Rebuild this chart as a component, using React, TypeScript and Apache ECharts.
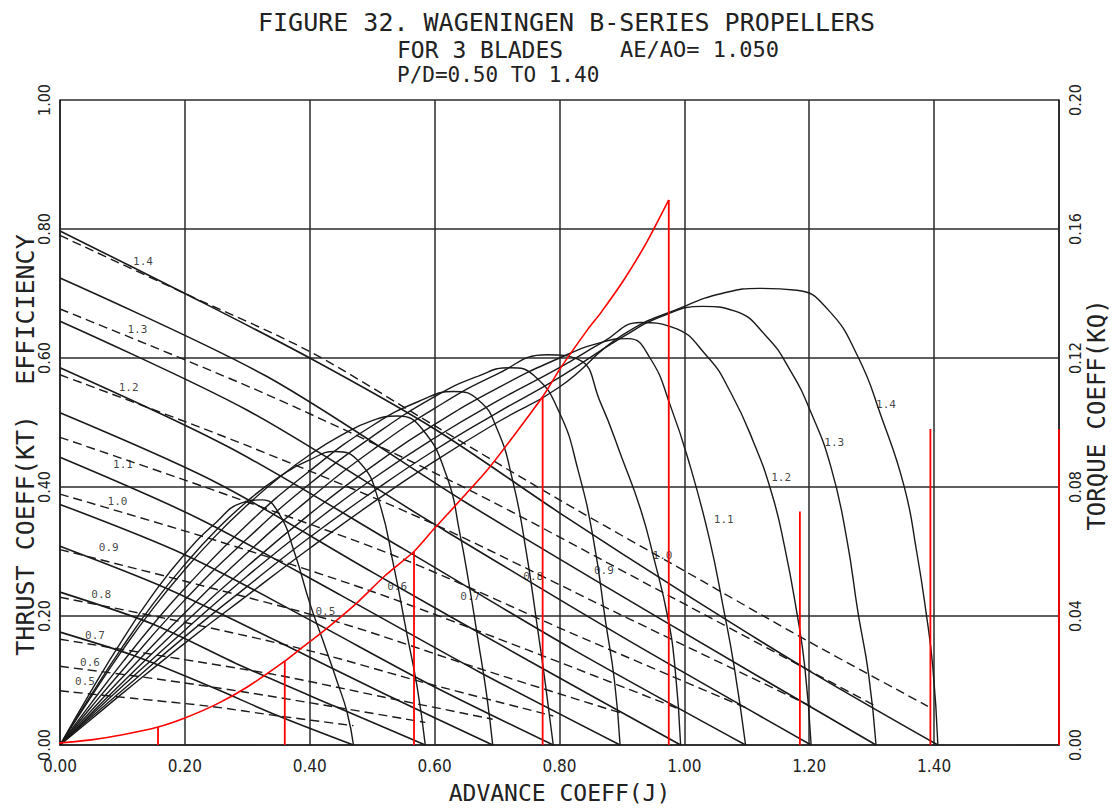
import React, { useEffect, useRef } from "react";
import * as echarts from "echarts";

// Pitch ratios P/D
const pitchRatios = ["0.5", "0.6", "0.7", "0.8", "0.9", "1.0", "1.1", "1.2", "1.3", "1.4"];

// Thrust coefficient KT (solid) – advance coefficient J and KT values
const ktJ = [
  [0, 0.12, 0.24, 0.35, 0.47],
  [0, 0.15, 0.29, 0.44, 0.585],
  [0, 0.17, 0.35, 0.52, 0.693],
  [0, 0.2, 0.4, 0.59, 0.79],
  [0, 0.22, 0.45, 0.67, 0.897],
  [0, 0.25, 0.5, 0.75, 0.994],
  [0, 0.27, 0.55, 0.82, 1.098],
  [0, 0.3, 0.6, 0.9, 1.203],
  [0, 0.33, 0.65, 0.98, 1.307],
  [0, 0.2, 0.4, 0.6, 0.8, 1.0, 1.2, 1.406],
];
const ktValues = [
  [0.175, 0.138, 0.091, 0.045, 0],
  [0.237, 0.187, 0.123, 0.06, 0],
  [0.308, 0.243, 0.16, 0.079, 0],
  [0.373, 0.295, 0.194, 0.095, 0],
  [0.446, 0.352, 0.232, 0.114, 0],
  [0.515, 0.407, 0.268, 0.131, 0],
  [0.585, 0.462, 0.304, 0.149, 0],
  [0.657, 0.519, 0.342, 0.168, 0],
  [0.724, 0.572, 0.376, 0.185, 0],
  [0.797, 0.7, 0.6, 0.49, 0.36, 0.235, 0.115, 0],
];

// Torque coefficient KQ (dashed, right axis)
const kqJ = [
  [0, 0.12, 0.24, 0.35, 0.47],
  [0, 0.15, 0.29, 0.44, 0.585],
  [0, 0.17, 0.35, 0.52, 0.693],
  [0, 0.2, 0.4, 0.59, 0.79],
  [0, 0.22, 0.45, 0.67, 0.897],
  [0, 0.25, 0.5, 0.75, 0.994],
  [0, 0.27, 0.55, 0.82, 1.098],
  [0, 0.3, 0.6, 0.9, 1.203],
  [0, 0.33, 0.65, 0.98, 1.307],
  [0, 0.2, 0.4, 0.6, 0.8, 1.0, 1.2, 1.39],
];
const kqValues = [
  [0.0168, 0.0144, 0.012, 0.009, 0.006],
  [0.0244, 0.0206, 0.0166, 0.0118, 0.007],
  [0.0328, 0.0274, 0.0216, 0.0148, 0.008],
  [0.0458, 0.038, 0.0292, 0.019, 0.009],
  [0.0606, 0.0498, 0.0378, 0.0238, 0.01],
  [0.0778, 0.0634, 0.0476, 0.0294, 0.011],
  [0.0954, 0.0774, 0.0576, 0.0346, 0.0116],
  [0.1148, 0.0928, 0.0684, 0.0402, 0.012],
  [0.1352, 0.1088, 0.0796, 0.0458, 0.012],
  [0.158, 0.14, 0.122, 0.099, 0.076, 0.054, 0.032, 0.012],
];

// Open-water efficiency (solid arches)
const etaJ = [
  [0, 0.05, 0.1, 0.15, 0.2, 0.25, 0.29, 0.324, 0.35, 0.375, 0.4, 0.42, 0.445, 0.46, 0.47],
  [0, 0.05, 0.1, 0.15, 0.2, 0.25, 0.3, 0.35, 0.4, 0.44, 0.48, 0.51, 0.535, 0.555, 0.572, 0.585],
  [0, 0.05, 0.1, 0.15, 0.2, 0.25, 0.3, 0.35, 0.4, 0.45, 0.5, 0.54, 0.58, 0.62, 0.64, 0.655, 0.67, 0.683, 0.693],
  [0, 0.05, 0.1, 0.15, 0.2, 0.3, 0.4, 0.5, 0.58, 0.63, 0.67, 0.7, 0.725, 0.745, 0.765, 0.778, 0.79],
  [0, 0.05, 0.1, 0.2, 0.3, 0.4, 0.5, 0.6, 0.67, 0.72, 0.76, 0.8, 0.83, 0.855, 0.874, 0.888, 0.897],
  [0, 0.05, 0.1, 0.2, 0.3, 0.4, 0.5, 0.6, 0.7, 0.78, 0.83, 0.866, 0.9, 0.93, 0.951, 0.973, 0.985, 0.994],
  [0, 0.05, 0.1, 0.2, 0.3, 0.4, 0.5, 0.6, 0.7, 0.8, 0.87, 0.91, 0.945, 0.978, 1.01, 1.04, 1.063, 1.08, 1.098],
  [0, 0.05, 0.1, 0.2, 0.3, 0.4, 0.5, 0.6, 0.7, 0.8, 0.87, 0.93, 0.98, 1.037, 1.075, 1.111, 1.14, 1.16, 1.18, 1.193, 1.203],
  [0, 0.05, 0.1, 0.2, 0.3, 0.4, 0.5, 0.6, 0.7, 0.8, 0.9, 0.97, 1.03, 1.08, 1.13, 1.17, 1.203, 1.235, 1.26, 1.278, 1.295, 1.307],
  [0, 0.05, 0.1, 0.2, 0.3, 0.4, 0.5, 0.6, 0.7, 0.8, 0.9, 1.0, 1.06, 1.12, 1.18, 1.23, 1.278, 1.315, 1.352, 1.372, 1.387, 1.398, 1.406],
];
const etaValues = [
  [0, 0.084, 0.163, 0.235, 0.296, 0.345, 0.375, 0.38, 0.36, 0.3, 0.22, 0.165, 0.095, 0.05, 0],
  [0, 0.078, 0.152, 0.22, 0.28, 0.333, 0.378, 0.415, 0.442, 0.455, 0.438, 0.38, 0.275, 0.175, 0.09, 0],
  [0, 0.075, 0.147, 0.213, 0.272, 0.325, 0.372, 0.414, 0.45, 0.48, 0.503, 0.51, 0.49, 0.415, 0.33, 0.25, 0.16, 0.08, 0],
  [0, 0.065, 0.128, 0.188, 0.243, 0.342, 0.425, 0.495, 0.535, 0.548, 0.535, 0.49, 0.41, 0.31, 0.18, 0.09, 0],
  [0, 0.059, 0.116, 0.225, 0.32, 0.405, 0.478, 0.54, 0.572, 0.585, 0.572, 0.515, 0.425, 0.315, 0.19, 0.1, 0],
  [0, 0.053, 0.105, 0.205, 0.298, 0.382, 0.457, 0.522, 0.575, 0.605, 0.598, 0.53, 0.445, 0.365, 0.29, 0.2, 0.12, 0],
  [0, 0.049, 0.097, 0.19, 0.277, 0.358, 0.432, 0.497, 0.553, 0.6, 0.625, 0.63, 0.6, 0.525, 0.43, 0.32, 0.21, 0.12, 0],
  [0, 0.046, 0.091, 0.178, 0.262, 0.34, 0.412, 0.476, 0.533, 0.585, 0.625, 0.655, 0.648, 0.602, 0.545, 0.469, 0.39, 0.31, 0.206, 0.12, 0],
  [0, 0.043, 0.085, 0.168, 0.246, 0.322, 0.392, 0.457, 0.515, 0.57, 0.632, 0.667, 0.68, 0.673, 0.635, 0.58, 0.515, 0.43, 0.32, 0.206, 0.11, 0],
  [0, 0.04, 0.08, 0.158, 0.232, 0.305, 0.375, 0.44, 0.5, 0.555, 0.635, 0.68, 0.7, 0.708, 0.705, 0.675, 0.602, 0.51, 0.401, 0.3, 0.206, 0.12, 0],
];

// Label positions (J, value) for the curve annotations
const kqLabelJ = [0.04, 0.048, 0.056, 0.066, 0.078, 0.092, 0.101, 0.11, 0.124, 0.133];
const kqLabelY = [0.099, 0.128, 0.17, 0.234, 0.306, 0.378, 0.435, 0.554, 0.644, 0.749];
const etaLabelJ = [0.425, 0.54, 0.657, 0.758, 0.871, 0.965, 1.063, 1.155, 1.24, 1.323];
const etaLabelY = [0.207, 0.245, 0.231, 0.262, 0.271, 0.294, 0.35, 0.415, 0.469, 0.528];
const ktLabelJ = [0.47, 0.572, 0.675, 0.77, 0.875, 0.99, 1.095, 1.19, 1.3, 1.4];
const ktLabelY = [-0.02, -0.02, -0.02, -0.02, -0.02, -0.02, -0.02, -0.02, -0.02, -0.02];

// Red overlay curve and its vertical markers
const redJ = [-0.056, 0, 0.05, 0.1, 0.157, 0.2, 0.25, 0.3, 0.36, 0.385, 0.42, 0.473, 0.52, 0.567, 0.598, 0.685, 0.773, 0.8, 0.845, 0.866, 0.903, 0.94, 0.975];
const redY = [-0.003, 0.003, 0.008, 0.016, 0.028, 0.042, 0.063, 0.09, 0.13, 0.149, 0.175, 0.218, 0.262, 0.3, 0.334, 0.427, 0.54, 0.582, 0.644, 0.67, 0.721, 0.78, 0.845];
const redBarJ = [0.157, 0.36, 0.567, 0.773, 0.975, 1.185, 1.394, 1.6];
const redBarY = [0.028, 0.13, 0.3, 0.54, 0.845, 0.362, 0.49, 0.49];

const MONO = "'DejaVu Sans Mono', 'Liberation Mono', monospace";
const NARROW = "'Liberation Sans Narrow', 'DejaVu Sans Condensed', 'Liberation Sans', sans-serif";

export default function App() {
  const ref = useRef<HTMLDivElement>(null);
  useEffect(() => {
    if (!ref.current) return;
    const chart = echarts.init(ref.current, undefined, { renderer: "svg" });
    const zip = (xs: number[], ys: number[]) => xs.map((x, i) => [x, ys[i]]);
    const series: any[] = [];
    pitchRatios.forEach((pd, k) => {
      series.push({
        type: "line", name: "KT " + pd, data: zip(ktJ[k], ktValues[k]), smooth: 0.3,
        symbol: "none", lineStyle: { color: "#1a1a1a", width: 1.6 }, z: 3,
      });
      series.push({
        type: "line", name: "KQ " + pd, yAxisIndex: 1, data: zip(kqJ[k], kqValues[k]), smooth: 0.3,
        symbol: "none", lineStyle: { color: "#1a1a1a", width: 1.4, type: [9, 5] }, z: 3,
      });
      series.push({
        type: "line", name: "ETA " + pd, data: zip(etaJ[k], etaValues[k]), smooth: 0.5,
        symbol: "none", lineStyle: { color: "#1a1a1a", width: 1.4 }, z: 3,
      });
    });
    const labelSeries = (xs: number[], ys: number[]) => ({
      type: "scatter", symbolSize: 0, silent: true, z: 4,
      data: xs.map((x, i) => [x, ys[i], pitchRatios[i]]),
      label: {
        show: true, position: "inside", formatter: (p: any) => p.data[2],
        fontFamily: MONO, fontSize: 11, color: "#111",
      },
    });
    series.push(labelSeries(kqLabelJ, kqLabelY));
    series.push(labelSeries(etaLabelJ, etaLabelY));
    series.push(labelSeries(ktLabelJ, ktLabelY));
    series.push({
      type: "line", name: "red", data: zip(redJ, redY), smooth: 0.2, clip: false,
      symbol: "none", lineStyle: { color: "#ff0000", width: 1.6 }, z: 5,
    });
    redBarJ.forEach((j, i) => {
      series.push({
        type: "line", data: [[j, 0], [j, redBarY[i]]], symbol: "none", clip: false,
        lineStyle: { color: "#ff0000", width: 1.8 }, z: 5,
      });
    });

    chart.setOption({
      animation: false,
      backgroundColor: "#ffffff",
      grid: { left: 60, right: 54, top: 100, bottom: 63, containLabel: false },
      graphic: [
        { type: "text", left: 258, top: 10, style: { text: "FIGURE 32. WAGENINGEN B-SERIES PROPELLERS", font: `25px ${MONO}`, fill: "#222" } },
        { type: "text", left: 397, top: 38, style: { text: "FOR 3 BLADES", font: `23px ${MONO}`, fill: "#222" } },
        { type: "text", left: 620, top: 38, style: { text: "AE/AO= 1.050", font: `22px ${MONO}`, fill: "#222" } },
        { type: "text", left: 397, top: 64, style: { text: "P/D=0.50 TO 1.40", font: `21px ${MONO}`, fill: "#222" } },
        {
          type: "text", x: 25, y: 445, rotation: Math.PI / 2,
          style: { text: "THRUST COEFF(KT)  EFFICIENCY", font: `25px ${MONO}`, fill: "#222", align: "center", verticalAlign: "middle" },
        },
        {
          type: "text", x: 1097, y: 415, rotation: Math.PI / 2,
          style: { text: "TORQUE COEFF(KQ)", font: `24px ${MONO}`, fill: "#222", align: "center", verticalAlign: "middle" },
        },
      ],
      xAxis: {
        type: "value", min: 0, max: 1.6, interval: 0.2,
        name: "ADVANCE COEFF(J)", nameLocation: "middle", nameGap: 36,
        nameTextStyle: { fontFamily: MONO, fontSize: 23, color: "#222" },
        axisLine: { show: true, lineStyle: { color: "#222", width: 1.6 } },
        axisTick: { show: false },
        axisLabel: {
          formatter: (v: number) => (v > 1.5 ? "" : v.toFixed(2)), margin: 12,
          fontFamily: NARROW, fontSize: 17, color: "#222",
        },
        splitLine: { show: true, lineStyle: { color: "#2a2a2a", width: 1.5 } },
      },
      yAxis: [
        {
          type: "value", min: 0, max: 1, interval: 0.2,
          axisLine: { show: true, lineStyle: { color: "#222", width: 1.6 } },
          axisTick: { show: false },
          axisLabel: {
            rotate: 90, formatter: (v: number) => v.toFixed(2), margin: 8,
            fontFamily: NARROW, fontSize: 16, color: "#222",
          },
          splitLine: { show: true, lineStyle: { color: "#2a2a2a", width: 1.5 } },
        },
        {
          type: "value", min: 0, max: 0.2, interval: 0.04, position: "right",
          axisLine: { show: true, lineStyle: { color: "#222", width: 1.6 } },
          axisTick: { show: false },
          axisLabel: {
            rotate: 90, formatter: (v: number) => v.toFixed(2), margin: 8,
            fontFamily: NARROW, fontSize: 16, color: "#222",
          },
          splitLine: { show: false },
        },
      ],
      series,
    });
    return () => chart.dispose();
  }, []);
  return <div ref={ref} style={{ position: "fixed", left: 0, top: 0, width: 1113, height: 809, background: "#fff" }} />;
}
